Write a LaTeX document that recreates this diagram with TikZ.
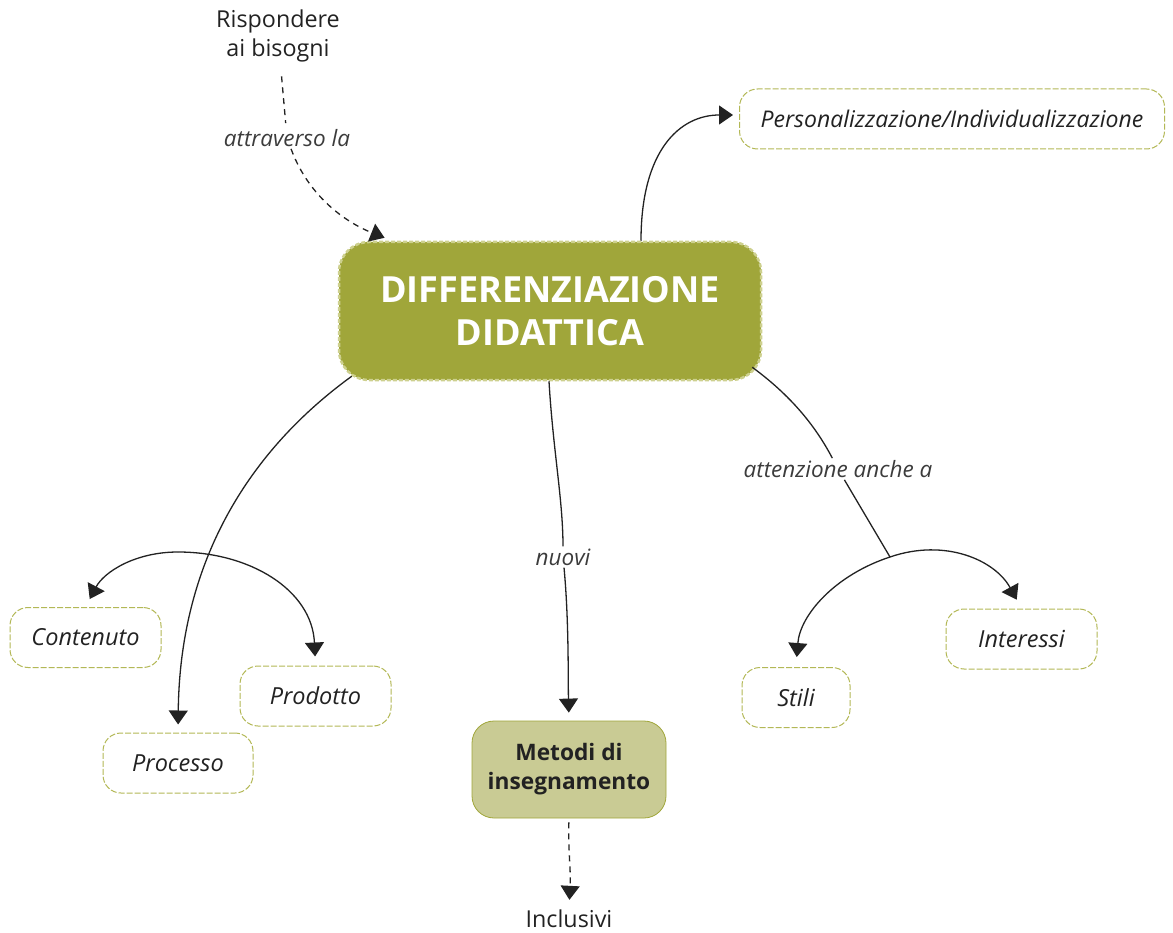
\documentclass[tikz,border=0pt]{standalone}
\usepackage{fontspec}
\setmainfont{Open Sans}
\usetikzlibrary{arrows.meta,calc}

\definecolor{mainolive}{HTML}{A0A63A}
\definecolor{mainedge}{HTML}{CDD08E}
\definecolor{softolive}{HTML}{C9CB94}
\definecolor{leafedge}{HTML}{B3B856}
\definecolor{ink}{HTML}{222222}
\definecolor{labelgray}{HTML}{3C3C3C}

\tikzset{
  bigtip/.style={-{Triangle[length=14pt,width=19pt]}},
  conn/.style={line width=1.3pt, draw=ink, bigtip},
  plainline/.style={line width=1.3pt, draw=ink},
  dashline/.style={line width=1.3pt, draw=ink, dash pattern=on 6pt off 5pt},
  dconn/.style={dashline, bigtip},
  leaf/.style={draw=leafedge, fill=white, dash pattern=on 6pt off 2pt, line width=1pt,
    rounded corners=18pt, minimum height=60pt,
    font=\fontsize{23.5}{27}\selectfont\itshape, text=ink},
  lbl/.style={font=\fontsize{22.5}{26}\selectfont\itshape, text=labelgray, inner sep=2pt},
  plaintext/.style={font=\fontsize{23.3}{29}\selectfont, text=ink, align=center, inner sep=2pt},
  mainbox/.style={draw=mainedge, fill=mainolive, dash pattern=on 4pt off 2pt, line width=2.5pt,
    rounded corners=30pt, minimum width=422pt, minimum height=138pt, text=white,
    font=\fontsize{36}{43}\selectfont\bfseries, align=center},
  methodbox/.style={draw=mainolive, fill=softolive, line width=0.8pt, rounded corners=22pt,
    minimum width=194pt, minimum height=97pt, text=ink,
    font=\fontsize{22.7}{29}\selectfont\bfseries, align=center},
}

\begin{document}
\begin{tikzpicture}[x=1pt,y=-1pt]
  \useasboundingbox (0,0) rectangle (1173,933);

  % nodes
  \node[mainbox] (main) at (550,311) {DIFFERENZIAZIONE\\DIDATTICA};
  \node[plaintext] (risp) at (278,36) {Rispondere\\ai bisogni};
  \node[lbl] (attr) at (287,138) {attraverso la};
  \node[leaf, minimum width=425pt, font=\fontsize{23}{27}\selectfont\itshape] (pers) at (952,119) {Personalizzazione/Individualizzazione};
  \node[leaf, minimum width=151pt] (cont) at (85.5,637.5) {Contenuto};
  \node[leaf, minimum width=151pt] (prod) at (315.5,696) {Prodotto};
  \node[leaf, minimum width=150pt] (proc) at (178,763) {Processo};
  \node[leaf, minimum width=108pt] (stili) at (796,697.5) {Stili};
  \node[leaf, minimum width=151pt] (inter) at (1021.5,639) {Interessi};
  \node[lbl] (nuovi) at (563,557) {nuovi};
  \node[lbl] (attn) at (838,469) {attenzione anche a};
  \node[methodbox] (metodi) at (569,769.5) {Metodi di\\insegnamento};
  \node[plaintext] (incl) at (569,919) {Inclusivi};

  \coordinate (j1) at (178,552);
  \coordinate (j2) at (890,557);

  % top: needs -> differentiation
  \draw[dashline, shorten <=12pt, shorten >=4pt] (risp) -- (attr);
  \draw[dconn, shorten >=8pt] (attr) .. controls (310,200) and (350,224) .. (392,0 |- main.north);

  % main -> personalisation
  \draw[conn, shorten >=6pt] (641,0 |- main.north) .. controls (641,150) and (680,115) .. ($(pers.west)+(0,-4)$);

  % main -> process, and content/product arc
  \draw[conn, shorten >=8pt] ($(main.south west)+(14,-5)$) .. controls (250,450) and (180,560) .. (proc.north);
  \draw[conn, shorten >=9pt] (j1) .. controls (135,552) and (104,572) .. (cont.north);
  \draw[conn, shorten >=9pt] (j1) .. controls (250,552) and (312,590) .. (prod.north);

  % main -> teaching methods -> inclusive
  \draw[plainline] (549,0 |- main.south) .. controls (553,450) and (563,500) .. (nuovi);
  \draw[conn, shorten >=8pt] (nuovi) .. controls (569,620) and (568,680) .. (metodi.north);
  \draw[dconn, shorten <=4pt, shorten >=8pt] (metodi.south) .. controls (568,850) and (571,870) .. (incl.north);

  % main -> styles / interests
  \draw[plainline] ($(main.south east)+(-10,-14)$) .. controls (790,395) and (815,425) .. (attn);
  \draw[plainline] (attn) -- (j2);
  \draw[conn, shorten >=10pt] (j2) .. controls (835,575) and (800,615) .. (stili.north);
  \draw[conn, shorten >=10pt] (j2) .. controls (945,538) and (995,560) .. (inter.north);
\end{tikzpicture}
\end{document}
